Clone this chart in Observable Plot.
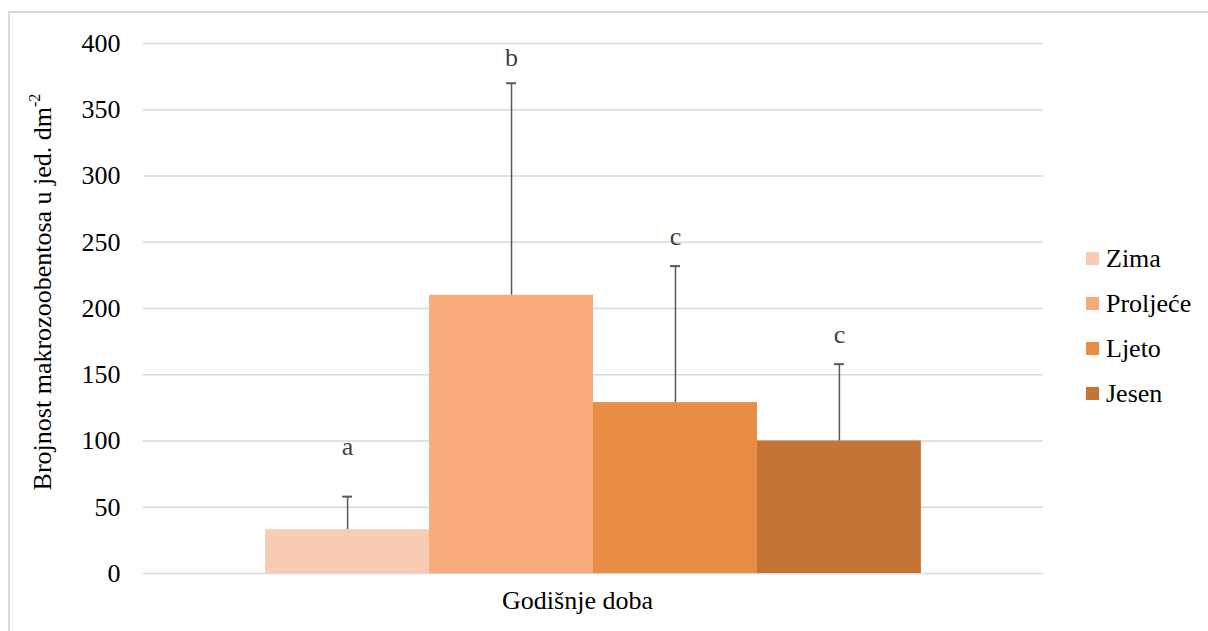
<!DOCTYPE html>
<html><head><meta charset="utf-8">
<script src="https://cdn.jsdelivr.net/npm/d3@7"></script>
<script src="https://cdn.jsdelivr.net/npm/@observablehq/plot@0.6"></script>
<style>
body{margin:0;background:#fff;}
#wrap{position:relative;width:1208px;height:631px;overflow:hidden;font-family:"Liberation Serif","Times New Roman",serif;}
#frame{position:absolute;left:8px;top:11px;width:1220px;height:640px;border:2px solid #d9d9d9;box-sizing:border-box;pointer-events:none;}
#legend{position:absolute;left:1086px;top:236px;}
.row{display:flex;align-items:center;height:45px;font-size:26px;color:#000;}
.sw{width:13px;height:13px;margin-right:7px;}
svg{position:absolute;left:0;top:0;}
</style></head>
<body><div id="wrap"><div id="frame"></div><div id="legend"></div></div>
<script>
const seasons = ["Zima", "Proljeće", "Ljeto", "Jesen"];
const means = [33, 210, 129, 100];
const upperSD = [58, 370, 232, 158];
const letters = ["a", "b", "c", "c"];
const letterY = [96, 389, 254, 180];
const colors = ["#F8CBB3", "#F7AB7A", "#E88D43", "#C47535"];
const yTicks = [0, 50, 100, 150, 200, 250, 300, 350, 400];
const xTitle = "Godišnje doba";
const yTitle = "Brojnost makrozoobentosa u jed. dm";
const yTitleSup = "-2";

const data = seasons.map((s, i) => ({season: s, mean: means[i], upper: upperSD[i], letter: letters[i], ly: letterY[i]}));

const chart = Plot.plot({
  width: 1208, height: 631,
  marginLeft: 143, marginRight: 165, marginTop: 43, marginBottom: 58,
  style: {fontFamily: "'Liberation Serif', 'Times New Roman', serif", fontSize: "26px", background: "transparent"},
  x: {domain: seasons, paddingInner: 0, paddingOuter: 0.745, round: false, axis: null},
  y: {domain: [0, 400]},
  color: {domain: seasons, range: colors},
  marks: [
    Plot.gridY(yTicks, {stroke: "#d9d9d9", strokeOpacity: 1, strokeWidth: 1.5}),
    Plot.axisY(yTicks, {tickSize: 0, tickPadding: 23, fontSize: 26, label: null, fill: "#000"}),
    Plot.barY(data, {x: "season", y: "mean", fill: "season"}),
    Plot.ruleX(data, {x: "season", y1: "mean", y2: "upper", stroke: "#595959", strokeWidth: 1.5}),
    Plot.tickY(data, {x: "season", y: "upper", insetLeft: 77, insetRight: 77, stroke: "#595959", strokeWidth: 2}),
    Plot.text(data, {x: "season", y: "ly", text: "letter", fontSize: 26, fill: "#404040"}),
    Plot.text([xTitle], {frameAnchor: "bottom", dy: 35, dx: -16, fontSize: 26, fill: "#000"})
  ]
});
document.getElementById("wrap").appendChild(chart);

const t = d3.select(chart).append("text")
  .attr("transform", "translate(45,292) rotate(-90)")
  .attr("text-anchor", "middle")
  .attr("dominant-baseline", "middle")
  .attr("font-size", 26)
  .attr("fill", "#000");
t.append("tspan").text(yTitle);
t.append("tspan").attr("baseline-shift", "super").attr("font-size", 16).text(yTitleSup);

const leg = d3.select("#legend");
seasons.forEach((s, i) => {
  const r = leg.append("div").attr("class", "row");
  r.append("div").attr("class", "sw").style("background", colors[i]);
  r.append("span").text(s);
});
</script></body></html>
